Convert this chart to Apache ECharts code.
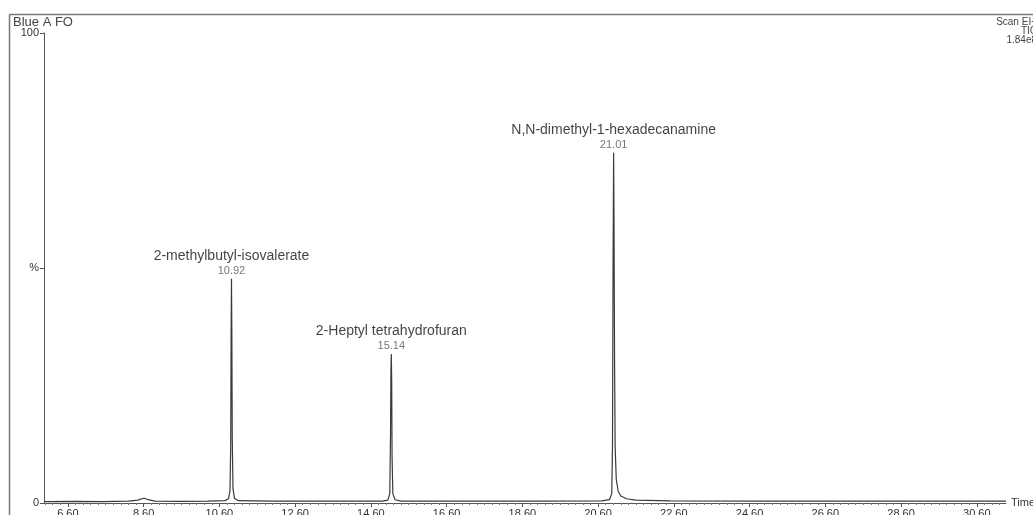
<!DOCTYPE html>
<html>
<head>
<meta charset="utf-8">
<script src="https://cdn.jsdelivr.net/npm/echarts@6/dist/echarts.min.js"></script>
<style>
html,body{margin:0;padding:0;background:#fff;}
#c{width:1033px;height:515px;}
</style>
</head>
<body>
<div id="c"></div>
<script>
// ---- data ----
const xTickLabels = ['6.60','8.60','10.60','12.60','14.60','16.60','18.60','20.60','22.60','24.60','26.60','28.60','30.60'];
const yTickLabels = ['0','%','100'];
const peakNames = ['2-methylbutyl-isovalerate','2-Heptyl tetrahydrofuran','N,N-dimethyl-1-hexadecanamine'];
const peakTimes = [10.92, 15.14, 21.01];
const peakHeights = [47.7, 31.7, 74.5];
const traceTime = [5.97,6.8,7.5,8.2,8.45,8.55,8.62,8.72,8.9,9.6,10.3,10.75,10.84,10.88,10.90,10.91,10.92,10.93,10.94,10.96,11.0,11.1,12.0,13.5,14.9,15.05,15.10,15.12,15.13,15.14,15.15,15.16,15.18,15.24,15.4,17.0,19.0,20.7,20.9,20.96,20.98,20.995,21.01,21.02,21.035,21.05,21.08,21.13,21.2,21.35,21.6,22.5,25.0,28.0,31.37];
const traceAbund = [0.3,0.35,0.3,0.4,0.6,0.9,1.0,0.7,0.4,0.35,0.4,0.5,0.9,2.5,12,35,47.7,36,14,3,1.0,0.5,0.4,0.4,0.4,0.6,2,15,28,31.7,26,10,2,0.7,0.4,0.4,0.4,0.45,0.7,2,12,50,74.5,60,30,12,5,2.5,1.5,0.9,0.6,0.45,0.4,0.4,0.4];

const X_MIN = 5.97, X_MAX = 31.37;
const majorVals = xTickLabels.map(Number);
const minorVals = [];
for (let v = 6.0; v <= 31.3; v += 0.2) {
  const r = +v.toFixed(2);
  if (!majorVals.some(m => Math.abs(m - r) < 1e-6)) minorVals.push(r);
}

const chart = echarts.init(document.getElementById('c'), null, {renderer:'canvas'});
const axisColor = '#555';
const font = 'Liberation Sans, Arial, sans-serif';

const option = {
  backgroundColor:'#fff',
  animation:false,
  grid:{left:44, right:27, top:33, bottom:12, outerBoundsMode:'none'},
  xAxis:[{
    type:'value', min:X_MIN, max:X_MAX,
    name:'Time', nameLocation:'end', nameGap:5,
    nameTextStyle:{color:'#333', fontSize:11, fontFamily:font, verticalAlign:'middle'},
    axisLine:{show:true, lineStyle:{color:axisColor, width:1}},
    axisTick:{show:true, customValues:majorVals, length:4, lineStyle:{color:axisColor}},
    axisLabel:{show:true, customValues:majorVals, formatter:v=>xTickLabels[majorVals.indexOf(v)] ?? v.toFixed(2), color:'#333', fontSize:11, fontFamily:font, margin:5},
    splitLine:{show:false}
  },{
    type:'value', min:X_MIN, max:X_MAX, position:'bottom',
    axisLine:{show:false},
    axisTick:{show:true, customValues:minorVals, length:2, lineStyle:{color:'#777'}},
    axisLabel:{show:false},
    splitLine:{show:false}
  }],
  yAxis:{
    type:'value', min:0, max:100, interval:50,
    axisLine:{show:true, lineStyle:{color:axisColor}},
    axisTick:{show:true, length:4, lineStyle:{color:axisColor}},
    axisLabel:{formatter:(v)=> yTickLabels[Math.round(v/50)], color:'#333', fontSize:11, fontFamily:font, margin:5},
    splitLine:{show:false}
  },
  series:[{
    type:'line', xAxisIndex:0, showSymbol:false, symbol:'none',
    lineStyle:{color:'#3a3a3a', width:1.2},
    data: traceTime.map((t,i)=>[t, traceAbund[i]]),
    z:3
  },{
    type:'scatter', xAxisIndex:0, symbolSize:0,
    data: peakTimes.map((t,i)=>({value:[t, peakHeights[i]], name:peakNames[i]})),
    label:{
      show:true, position:'top', distance:2,
      formatter:(p)=> '{n|'+p.name+'}\n{t|'+p.value[0].toFixed(2)+'}',
      rich:{
        n:{fontSize:14, color:'#111', fontFamily:font, lineHeight:18, align:'center'},
        t:{fontSize:11, color:'#555', fontFamily:font, lineHeight:12, align:'center'}
      }
    },
    z:4
  }],
  graphic:[
    {type:'line', shape:{x1:9.5, y1:14.5, x2:1033, y2:14.5}, style:{stroke:'#777', lineWidth:1.5}},
    {type:'line', shape:{x1:9.5, y1:14.5, x2:9.5, y2:515}, style:{stroke:'#777', lineWidth:1.5}},
    {type:'text', left:13, top:16, style:{text:'Blue A FO', fill:'#444', font:'13px '+font}},
    {type:'text', x:1037, y:17, style:{text:'Scan EI+', fill:'#444', font:'10px '+font, align:'right', verticalAlign:'top'}},
    {type:'text', x:1037, y:26, style:{text:'TIC', fill:'#444', font:'10px '+font, align:'right', verticalAlign:'top'}},
    {type:'text', x:1037, y:35, style:{text:'1.84e8', fill:'#444', font:'10px '+font, align:'right', verticalAlign:'top'}}
  ]
};
chart.setOption(option);
</script>
</body>
</html>
